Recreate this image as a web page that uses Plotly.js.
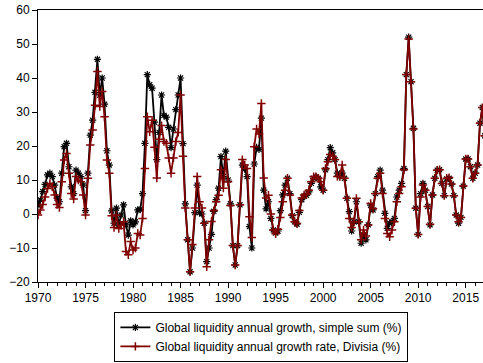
<!DOCTYPE html>
<html>
<head>
<meta charset="utf-8">
<script src="https://cdn.plot.ly/plotly-3.0.1.min.js"></script>
<style>html,body{margin:0;padding:0;background:#fff;}#chart{width:483px;height:363px;}</style>
</head>
<body>
<div id="chart"></div>
<script>
// Quarterly observations, 1970Q1 onward
const startYear = 1970;
const simpleSum = [
  2.6, 4.1, 6.6, 8.7,
  11.5, 12, 11, 8.5,
  4.7, 3.6, 12, 19.8,
  20.8, 13.9, 8, 6,
  12.9, 12, 11, 8.5,
  1, 12, 23.2, 27.6,
  35.8, 45.5, 35, 40,
  32.3, 18.6, 14.4, 0.9,
  -2.7, 1.7, -3.2, -0.3,
  2.7, -3.2, -6.2, -2,
  -3.2, -2.3, 1.2, 1.3,
  6, 20.8, 41, 38,
  37, 27, 16, 24,
  35, 29, 28.5, 25.5,
  19.5, 25, 30.7, 35,
  40, 20.7, 3, -7.6,
  -17, -10, 0.4, 8.5,
  0.4, 0, -2.7, -14,
  -10, -6, 0.8, 4.2,
  7.6, 16.9, 11, 18.5,
  10, 3, -9.3, -15,
  -9.3, 2.7, 14.4, 13.2,
  11, -3.7, -10, 14.7,
  19.6, 19, 28.2, 7,
  1.5, 3.6, -1.3, -4.7,
  -5.6, -5, 1, 5.6,
  8.5, 10.5, 6, -0.5,
  -2.3, -3, 0.5, 4.2,
  5.3, 5.5, 6.5, 9,
  10.5, 11, 10.5, 8,
  7, 13, 16, 19.5,
  18, 16, 12, 11,
  12, 10.5, 4.6, 0.7,
  -5, -2.3, 3.6, -2.3,
  -8.6, -6.2, -7.6, -3.2,
  2.6, 1.2, 6, 11,
  12.9, 7, 0.2, -4.2,
  -2.7, -2.3, -1.3, 5,
  7, 9, 13.4, 41,
  52, 38.9, 25.2, 1.7,
  -6, 6, 9, 7,
  2.2, -3.2, 5.6, 10.5,
  12.9, 13, 9, 5.4,
  10.3, 10.5, 8.8, 5.4,
  -0.3, -2.7, -1, 8.2,
  16.2, 16.2, 13.9, 10.5,
  12, 14.4, 26.7, 31.3,
  23
];
const divisia = [
  -0.3, 1.2, 2.8, 5,
  7.5, 9, 8, 5.6,
  2.8, 1.9, 9.5, 15.9,
  17.8, 12, 6, 4.4,
  11, 10, 9.5, 5.6,
  -0.3, 10.5, 20.3, 24.7,
  32, 41.9, 31.6, 36,
  28.6, 15.9, 12, -0.5,
  -4, -0.3, -4.3, -3.3,
  -2.3, -11, -12, -8.1,
  -10.6, -10, -5.7, -6.2,
  -1.3, 13.4, 28.6, 24.2,
  27.6, 19.6, 10.6, 22,
  26, 21.3, 20.8, 16.5,
  12, 16.5, 21.3, 24,
  35, 17, 1.8, -7.6,
  -17, -9, 1.8, 11,
  3.6, 1.8, -2.7, -15.5,
  -7.6, -2.2, 1, 3.6,
  5.5, 13, 7.6, 16,
  9.5, 2.5, -9.3, -15,
  -9.3, 2.7, 16, 14.4,
  13.4, -0.8, -6.9, 19.8,
  25, 23.5, 32.5, 10.6,
  4.7, 5.5, 0, -4.7,
  -5.8, -4.5, -1, 3.6,
  7, 10.5, 5.6, -0.3,
  -2.3, -2.8, 1, 4.7,
  5.6, 5.8, 7, 9.5,
  11, 11, 10.5, 9.5,
  7, 13.4, 15.4, 17.5,
  17, 16, 11, 11,
  14.4, 10.5, 4.6, -1.3,
  -4, -2.3, 4.6, -2.3,
  -7.6, -4.7, -6.5, -3.2,
  3.1, 1.6, 6, 10.5,
  12, 6, -1.3, -5.7,
  -6.7, -4.7, -2.3, 3.6,
  6, 8, 13, 41,
  51.5, 38.9, 25, 1.7,
  -6, 5, 8.5, 7,
  2.2, -3, 5.6, 10.5,
  12.9, 13, 9, 5.4,
  10.5, 10.7, 8.8, 5.4,
  -0.3, -2.3, -1, 8.2,
  16.2, 16.2, 13.9, 10.5,
  12, 14.4, 26.7, 31.3,
  23
];
const seriesNames = [
  "Global liquidity annual growth, simple sum (%)",
  "Global liquidity annual growth rate, Divisia (%)"
];

const xq = simpleSum.map((_, i) => startYear + i / 4);
const FONT = "Liberation Sans, Arial, Helvetica, sans-serif";

const traces = [
  {
    x: xq, y: simpleSum, name: seriesNames[0], type: "scatter", mode: "lines+markers",
    line: {color: "#000000", width: 1.8},
    marker: {symbol: "asterisk-open", size: 6, color: "#000000", line: {color: "#000000", width: 1.2}},
    cliponaxis: true
  },
  {
    x: xq, y: divisia, name: seriesNames[1], type: "scatter", mode: "lines+markers",
    line: {color: "#800000", width: 1.8},
    marker: {symbol: "cross-thin-open", size: 6, color: "#800000", line: {color: "#800000", width: 1.5}},
    cliponaxis: true
  }
];

const layout = {
  width: 483, height: 363,
  margin: {l: 38, r: 0, t: 10, b: 81, pad: 0},
  paper_bgcolor: "#ffffff", plot_bgcolor: "#ffffff",
  font: {family: FONT, size: 12, color: "#000000"},
  showlegend: true,
  xaxis: {
    range: [1970, 2016.82],
    tickmode: "linear", tick0: 1970, dtick: 5,
    ticks: "outside", ticklen: 5, tickwidth: 1, tickcolor: "#000",
    minor: {tickmode: "linear", tick0: 1970, dtick: 1, ticks: "outside", ticklen: 3, tickcolor: "#000", showgrid: false},
    showline: true, linecolor: "#000", linewidth: 1, mirror: true,
    showgrid: false, zeroline: false, automargin: false,
    tickfont: {family: FONT, size: 12, color: "#000"}
  },
  yaxis: {
    range: [-20, 60],
    tickmode: "linear", tick0: -20, dtick: 10,
    ticks: "outside", ticklen: 5, tickwidth: 1, tickcolor: "#000",
    showline: true, linecolor: "#000", linewidth: 1, mirror: true,
    showgrid: false, zeroline: false, automargin: false,
    tickfont: {family: FONT, size: 12, color: "#000"}
  },
  legend: {
    x: 0.502, y: -0.11, xanchor: "center", yanchor: "top",
    bordercolor: "#000", borderwidth: 1, bgcolor: "#fff",
    font: {family: FONT, size: 12, color: "#000"},
    tracegroupgap: 0, itemwidth: 30
  }
};

Plotly.newPlot("chart", traces, layout, {displayModeBar: false, staticPlot: true});
</script>
</body>
</html>
